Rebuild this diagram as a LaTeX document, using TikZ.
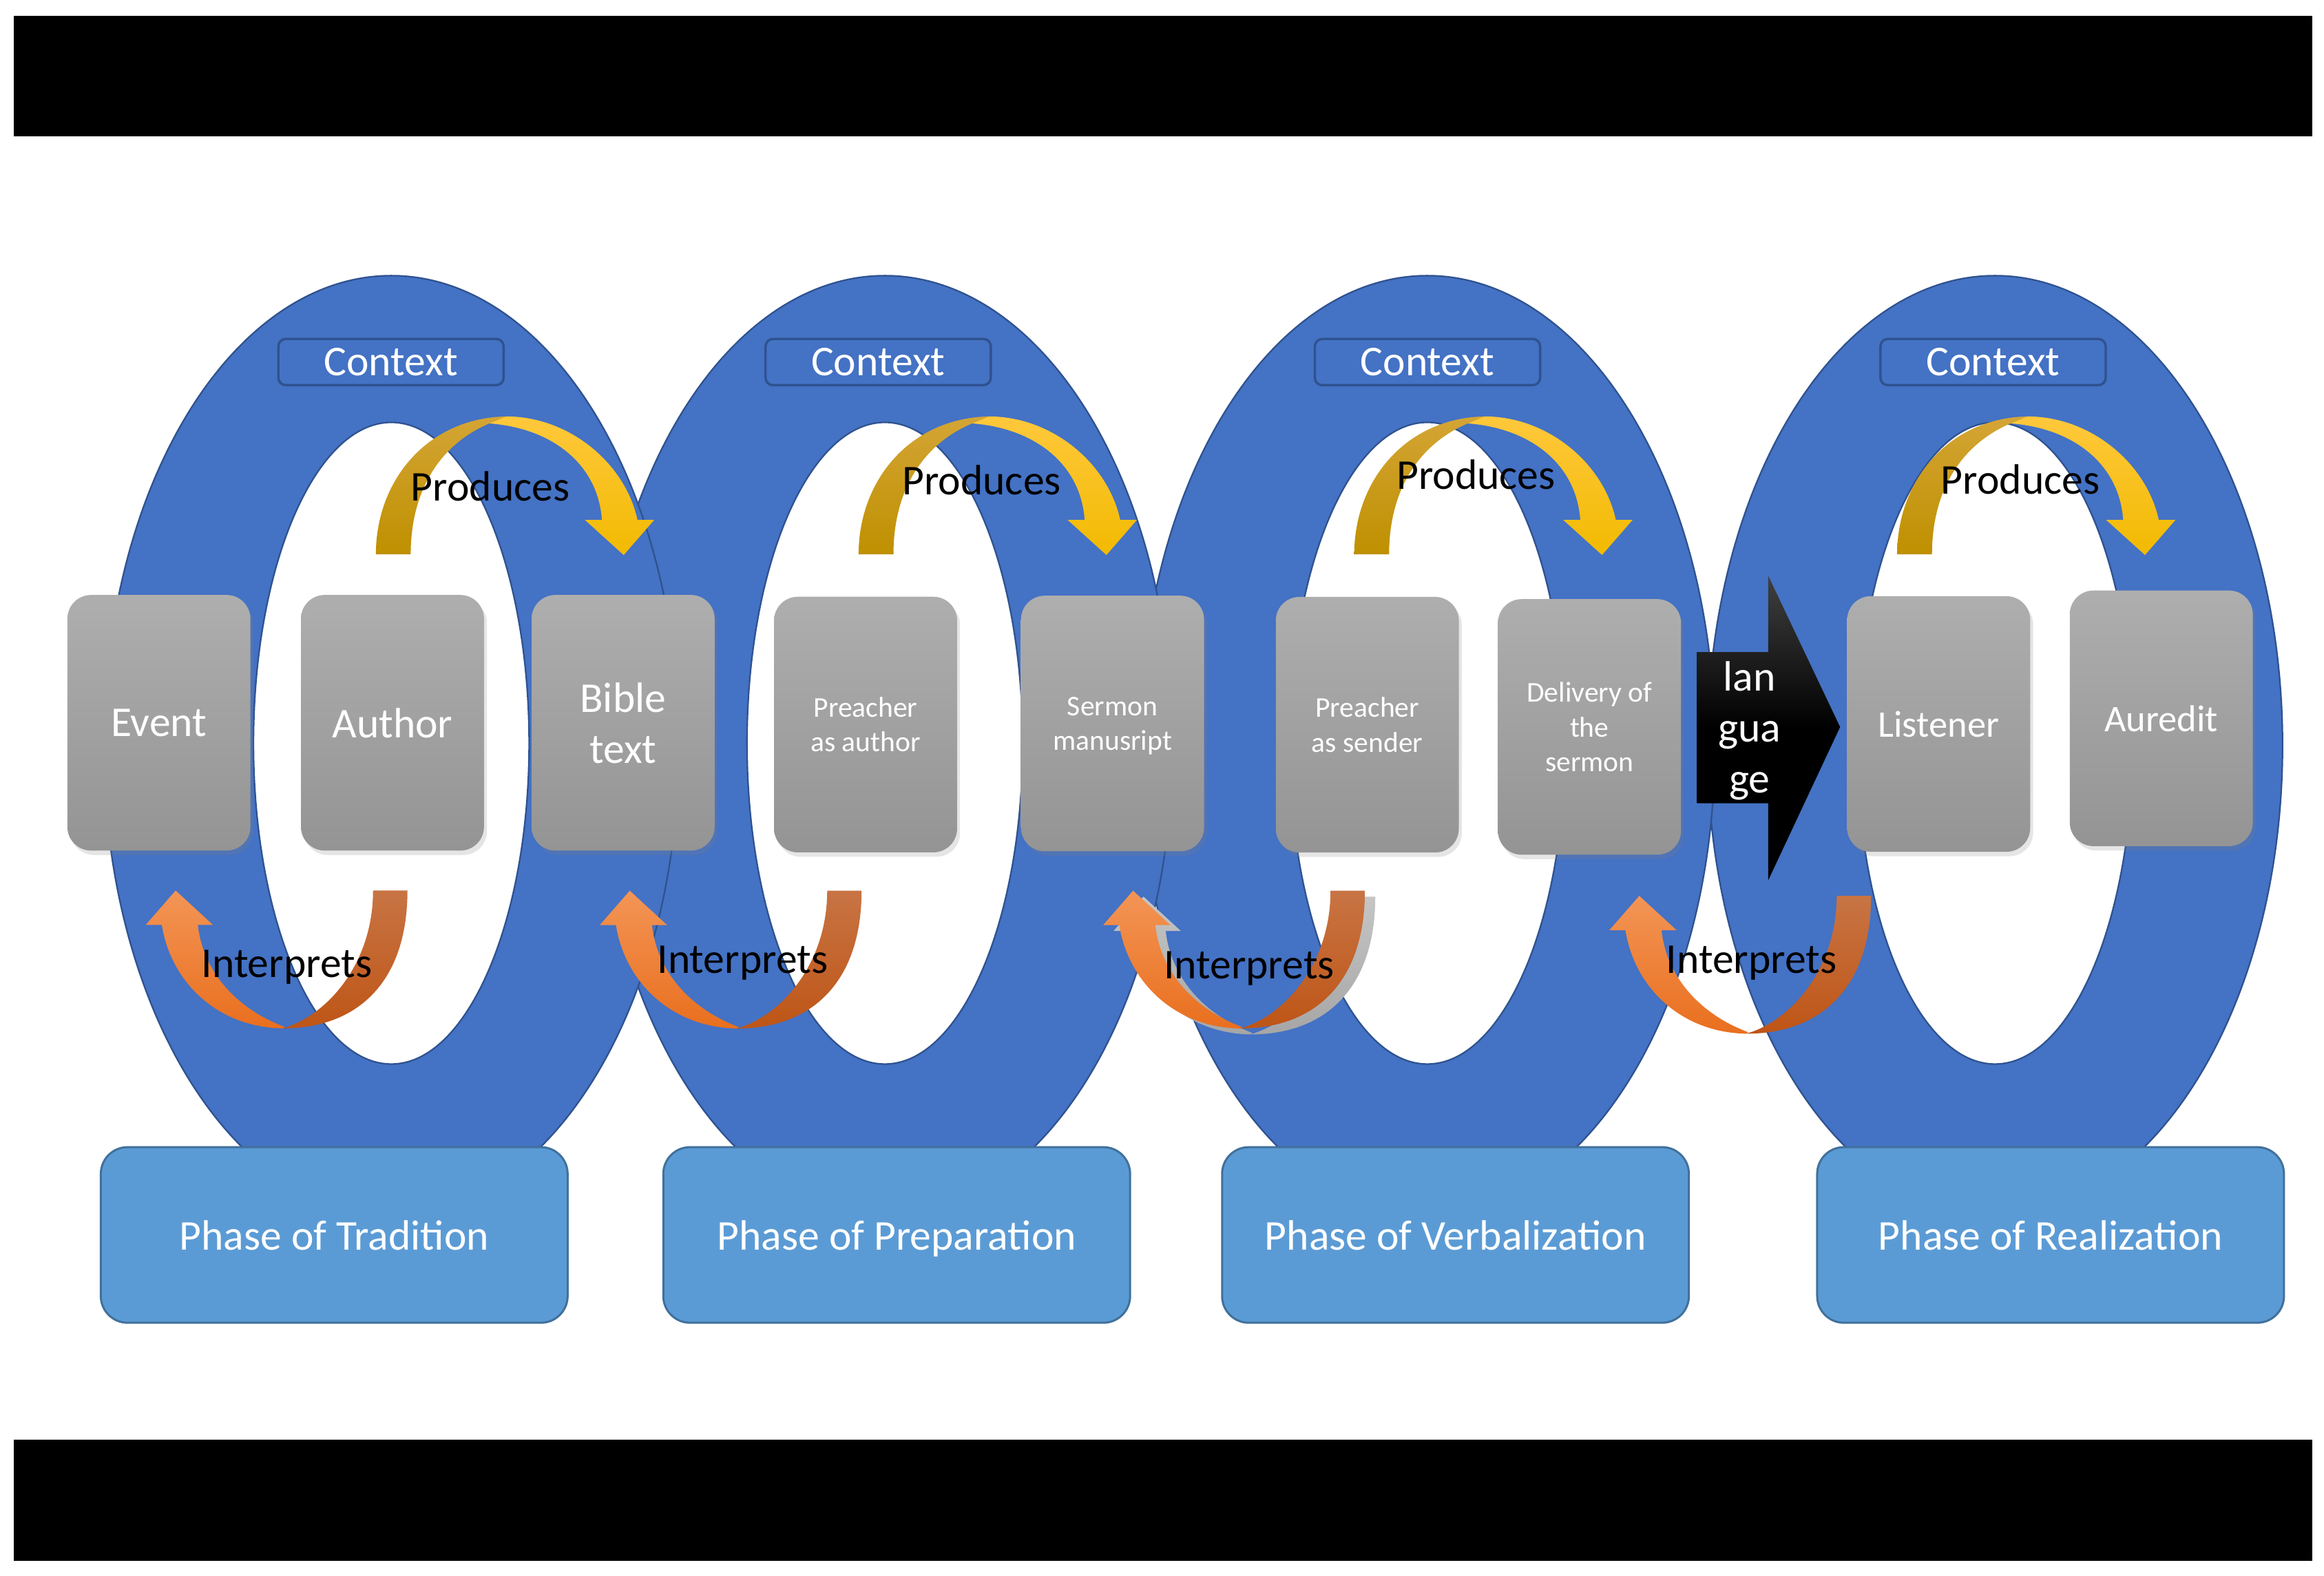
\documentclass[tikz,border=0pt]{standalone}
\usepackage{fontspec}
\setmainfont{Carlito}
\usetikzlibrary{shadows}

\definecolor{ringblue}{HTML}{4472C4}
\definecolor{ringedge}{HTML}{2F528F}
\definecolor{phaseblue}{HTML}{5B9BD5}
\definecolor{phaseedge}{HTML}{41719C}
\definecolor{boxtop}{HTML}{AEAEAE}
\definecolor{boxbot}{HTML}{949494}
\definecolor{golddark}{HTML}{BF9000}
\definecolor{goldtop}{HTML}{D4A535}
\definecolor{yellowtop}{HTML}{FFC83C}
\definecolor{yellowbot}{HTML}{F2BA00}
\definecolor{orangetop}{HTML}{F39556}
\definecolor{orangebot}{HTML}{E96F1E}
\definecolor{browntop}{HTML}{C87444}
\definecolor{brownbot}{HTML}{BE5516}

\newcommand{\bigtxt}{\fontsize{16.3}{19.6}\selectfont}
\newcommand{\midtxt}{\fontsize{14.4}{17.6}\selectfont}
\newcommand{\smalltxt}{\fontsize{11}{13.3}\selectfont}

\tikzset{
  graybox/.style={rectangle, rounded corners=0.32cm, minimum width=2.47cm, minimum height=3.45cm,
    inner sep=0pt, text depth=0pt, top color=boxtop, bottom color=boxbot, text=white, align=center, font=\bigtxt,
    drop shadow={shadow xshift=0.4mm, shadow yshift=-0.6mm, opacity=0.2}},
  ctxbox/.style={rectangle, rounded corners=0.1cm, minimum width=3.04cm, minimum height=0.624cm,
    inner sep=0pt, draw=ringedge, line width=0.9pt, fill=ringblue, text=white, font=\bigtxt},
  phasebox/.style={rectangle, rounded corners=0.36cm, minimum width=6.3cm, minimum height=2.37cm,
    text depth=0pt, draw=phaseedge, line width=0.8pt, fill=phaseblue, text=white, font=\bigtxt},
  lbl/.style={anchor=base, inner sep=0pt, text=black, font=\bigtxt},
  arrowshadow/.style={top color=gray!45, bottom color=gray!70}
}

\newcommand{\bluering}[1]{%
  \filldraw[fill=ringblue, draw=ringedge, line width=0.6pt, even odd rule]
    (#1,503) ellipse (194 and 317) (#1,501.5) ellipse (93 and 216.5);}

\newcommand{\producesarrow}[2]{%
  \begin{scope}[shift={(#1,#2)}]
    \shade[top color=goldtop, bottom color=golddark] (0,0) .. controls (0,-50) and (35,-92) .. (88,-93)
      -- (76.6,-88.3) .. controls (45,-75) and (23.5,-45) .. (23.5,0) -- cycle;
    \shade[top color=yellowtop, bottom color=yellowbot] (76.6,-88.3) -- (88,-93)
      .. controls (130,-93) and (168,-62) .. (176.5,-23.2) -- (187.8,-23.2) -- (167.2,0.5)
      -- (141,-23.2) -- (152.5,-23.2) .. controls (150,-60) and (120,-85) .. (76.6,-88.3) -- cycle;
  \end{scope}}

\newcommand{\interpretsarrow}[3][]{%
  \begin{scope}[shift={(#2,#3)}]
    \shade[top color=browntop, bottom color=brownbot, #1] (0,0) .. controls (0,60) and (-32,93) .. (-84.4,93)
      .. controls (-55,85) and (-23.2,50) .. (-23.2,0) -- cycle;
    \shade[top color=orangetop, bottom color=orangebot, #1] (-84.4,93) .. controls (-130,92) and (-160,60) .. (-165.7,23.2)
      -- (-176.6,23.2) -- (-156.4,0) -- (-131.2,23.2) -- (-141.4,23.2)
      .. controls (-138,55) and (-115,80) .. (-82.9,92) -- cycle;
  \end{scope}}

\begin{document}
\begin{tikzpicture}[x=0.02cm, y=-0.02cm]
                \fill[white] (0,0) rectangle (1568,1063);
                \useasboundingbox (0,0) rectangle (1568,1063);
                \fill[black] (9.3,10.6) rectangle (1560,92);
                \fill[black] (9.3,971.5) rectangle (1560,1053);

                \bluering{1346}
                \bluering{963}
                \bluering{597}
                \bluering{264}

                \node[ctxbox] (ctx1) at (263.8,244.3) {Context};
                \node[ctxbox] (ctx2) at (592.5,244.3) {Context};
                \node[ctxbox] (ctx3) at (963.1,244.3) {Context};
                \node[ctxbox] (ctx4) at (1344.7,244.3) {Context};

                \node[graybox] (event) at (107.2,487.7) {Event};
                \node[graybox] (author) at (264.8,487.7) {Author};
                \node[graybox] (bible) at (420.4,487.7) {Bible\\text};
                \node[graybox, font=\smalltxt] (preacherauthor) at (584,488.9) {Preacher\\as author};
                \node[graybox, font=\smalltxt] (manuscript) at (750.6,488.2) {Sermon\\manusript};
                \node[graybox, font=\smalltxt] (preachersender) at (922.5,489) {Preacher\\as sender};
                \node[graybox, font=\smalltxt] (delivery) at (1072.4,490.5) {Delivery of\\the\\sermon};
                \node[graybox, font=\midtxt] (listener) at (1308,488.5) {Listener};
                \node[graybox, font=\midtxt] (auredit) at (1458.2,484.7) {Auredit};

                \shade[top color=black!75, bottom color=black, middle color=black]
                    (1145,440) -- (1193,440) -- (1193,388.5) -- (1241.5,490.6) -- (1193,594)
                    -- (1193,542) -- (1145,542) -- cycle;
                \node[text=white, font=\bigtxt, align=center, inner sep=0pt] (language) at (1180.4,493) {lan\\gua\\ge};

                \producesarrow{253.6}{374}
                \producesarrow{579.3}{374}
                \producesarrow{913.7}{374}
                \producesarrow{1280}{374}
                \node[lbl] (prod1) at (330.8,337.9) {Produces};
                \node[lbl] (prod2) at (662.3,334) {Produces};
                \node[lbl] (prod3) at (995.8,330.2) {Produces};
                \node[lbl] (prod4) at (1363.2,333.5) {Produces};

                \interpretsarrow{274.9}{600.9}
                \interpretsarrow{581.3}{601}
                \interpretsarrow[arrowshadow]{927.9}{605}
                \interpretsarrow{920.9}{601}
                \interpretsarrow{1262.4}{604.5}
                \node[lbl] (interp1) at (193.5,659.5) {Interprets};
                \node[lbl] (interp2) at (501,656.9) {Interprets};
                \node[lbl] (interp3) at (842.7,660.3) {Interprets};
                \node[lbl] (interp4) at (1181.8,656.9) {Interprets};

                \node[phasebox] (tradition) at (225.5,833.3) {Phase of Tradition};
                \node[phasebox] (preparation) at (605,833.3) {Phase of Preparation};
                \node[phasebox] (verbalization) at (982,833.3) {Phase of Verbalization};
                \node[phasebox] (realization) at (1383.5,833.3) {Phase of Realization};
\end{tikzpicture}
\end{document}
